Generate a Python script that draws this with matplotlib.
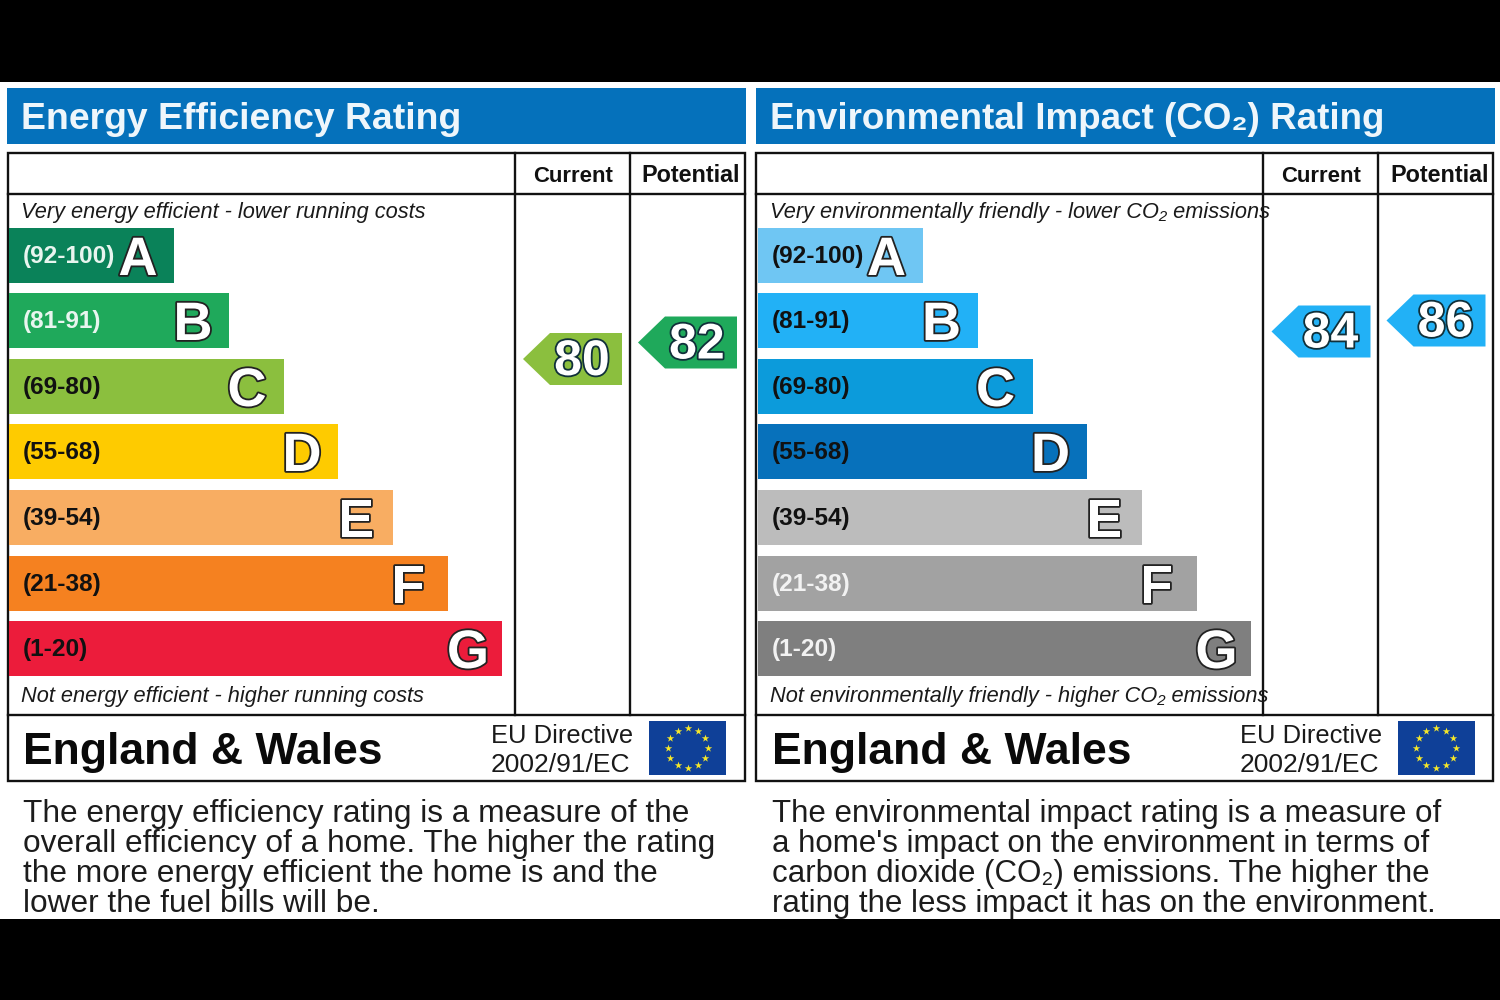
import numpy as np
import matplotlib
matplotlib.use("Agg")
import matplotlib.pyplot as plt
from matplotlib.patches import Polygon, Rectangle
import matplotlib.patheffects as pe

plt.rcParams['font.family'] = ['Liberation Sans', 'DejaVu Sans']

bands = ["(92-100)", "(81-91)", "(69-80)", "(55-68)", "(39-54)", "(21-38)", "(1-20)"]
letters = ["A", "B", "C", "D", "E", "F", "G"]
band_hi = [100, 91, 80, 68, 54, 38, 20]
band_lo = [92, 81, 69, 55, 39, 21, 1]
bar_lengths = [165, 220, 275, 329, 384, 439, 493]
letter_centres = [138, 193, 247, 302, 356, 408, 468]
band_tops = [228, 293, 359, 424, 490, 556, 621]
energy_colors = ["#0a8259", "#1fa95b", "#8bbf3e", "#fecb00", "#f8ad62", "#f58120", "#ec1c3b"]
co2_colors = ["#6fc6f3", "#22b1f6", "#0c9bdb", "#0771bb", "#bcbcbc", "#a2a2a2", "#7f7f7f"]
energy_label_colors = ["#e8f5ef", "#e8f5ef", "#111", "#111", "#111", "#111", "#111"]
co2_label_colors = ["#111", "#111", "#111", "#111", "#111", "#f2f2f2", "#f2f2f2"]

energy_current, energy_potential = 80, 82
co2_current, co2_potential = 84, 86

energy_desc = ["The energy efficiency rating is a measure of the",
               "overall efficiency of a home. The higher the rating",
               "the more energy efficient the home is and the",
               "lower the fuel bills will be."]
co2_desc = ["The environmental impact rating is a measure of",
            "a home's impact on the environment in terms of",
            "carbon dioxide (CO\u2082) emissions. The higher the",
            "rating the less impact it has on the environment."]

fig = plt.figure(figsize=(15, 10), dpi=100, facecolor="black")
ax = fig.add_axes([0, 0, 1, 1])
ax.set_xlim(0, 1500)
ax.set_ylim(1000, 0)
ax.axis("off")
ax.add_patch(Rectangle((0, 82), 1500, 837, fc="white", ec="none", zorder=0))

BH = 55


def arrow_y(v):
    for top, hi, lo in zip(band_tops, band_hi, band_lo):
        if lo <= v <= hi:
            return top + (hi - v) / (hi - lo) * BH
    return band_tops[-1]


def rating_arrow(x0, v, col):
    y = arrow_y(v)
    w, h, tip = 99, 52, 27
    ax.add_patch(Polygon([(x0, y), (x0 + tip, y - h / 2), (x0 + w, y - h / 2),
                          (x0 + w, y + h / 2), (x0 + tip, y + h / 2)],
                         closed=True, fc=col, ec="none", zorder=3))
    ax.text(x0 + 59, y + 16, str(v), fontsize=36, fontweight="bold", color="white",
            ha="center", va="baseline", zorder=4,
            path_effects=[pe.withStroke(linewidth=2.6, foreground="#10303a")])


def panel(dx, title, title_size, top_text, bottom_text, colors, lab_cols, cur, pot,
          cur_col, pot_col, desc, desc_size):
    ax.add_patch(Rectangle((7 + dx, 88), 739, 56, fc="#0571bb", ec="none", zorder=1))
    ax.text(21 + dx, 129, title, fontsize=title_size, fontweight="bold", color="#eef6fb",
            va="baseline", ha="left", zorder=2)
    lw = 1.7
    ax.add_patch(Rectangle((7.5 + dx, 153), 737, 628, fc="white", ec="#111", lw=lw, zorder=1))
    ax.plot([7.5 + dx, 744.5 + dx], [194, 194], color="#111", lw=lw, zorder=5)
    ax.plot([7.5 + dx, 744.5 + dx], [715, 715], color="#111", lw=lw, zorder=5)
    ax.plot([514.5 + dx, 514.5 + dx], [153, 715], color="#111", lw=lw, zorder=5)
    ax.plot([629.5 + dx, 629.5 + dx], [153, 715], color="#111", lw=lw, zorder=5)
    ax.text(573 + dx, 182, "Current", fontsize=15.9, fontweight="bold", color="#111",
            ha="center", va="baseline", zorder=6)
    ax.text(691 + dx, 182, "Potential", fontsize=16.8, fontweight="bold", color="#111",
            ha="center", va="baseline", zorder=6)
    ax.text(21 + dx, 218, top_text, fontsize=15.65, style="italic", color="#1a1a1a",
            va="baseline", zorder=6)
    ax.text(21 + dx, 702, bottom_text, fontsize=15.65, style="italic", color="#1a1a1a",
            va="baseline", zorder=6)
    ax.barh([t + BH / 2 for t in band_tops], bar_lengths, height=BH, left=9 + dx,
            color=colors, edgecolor="none", zorder=2)
    for i, t in enumerate(band_tops):
        ax.text(23 + dx, t + 35, bands[i], fontsize=17.6, fontweight="bold",
                color=lab_cols[i], va="baseline", zorder=4)
        ax.text(letter_centres[i] + dx, t + 47, letters[i], fontsize=39,
                fontweight="bold", color="white", ha="center", va="baseline", zorder=4,
                path_effects=[pe.withStroke(linewidth=2.6, foreground="#222")])
    rating_arrow(523 + dx, cur, cur_col)
    rating_arrow(638 + dx, pot, pot_col)
    ax.text(23 + dx, 764, "England & Wales", fontsize=32, fontweight="bold", color="#0a0a0a",
            va="baseline", zorder=6)
    ax.text(491 + dx, 743, "EU Directive", fontsize=18.4, color="#1a1a1a", va="baseline", zorder=6)
    ax.text(491 + dx, 772, "2002/91/EC", fontsize=19, color="#1a1a1a", va="baseline", zorder=6)
    ax.add_patch(Rectangle((649 + dx, 721), 77, 54, fc="#0f4098", ec="none", zorder=3))
    ang = np.arange(12) * np.pi / 6
    ax.scatter(687.5 + dx + 20 * np.cos(ang), 748 + 20 * np.sin(ang), marker="*", s=32,
               color="#f5e72a", linewidths=0, zorder=4)
    for k, line in enumerate(desc):
        ax.text(23 + dx, 822 + 30 * k, line, fontsize=desc_size, color="#1c1c1c", va="baseline",
                zorder=6)


panel(0, "Energy Efficiency Rating", 26.9,
      "Very energy efficient - lower running costs",
      "Not energy efficient - higher running costs",
      energy_colors, energy_label_colors, energy_current, energy_potential,
      energy_colors[2], energy_colors[1], energy_desc, 22.8)
panel(748.5, "Environmental Impact (CO\u2082) Rating", 26.45,
      "Very environmentally friendly - lower CO\u2082 emissions",
      "Not environmentally friendly - higher CO\u2082 emissions",
      co2_colors, co2_label_colors, co2_current, co2_potential,
      co2_colors[1], co2_colors[1], co2_desc, 22.5)

fig.savefig("out.png", dpi=100, facecolor="black")
